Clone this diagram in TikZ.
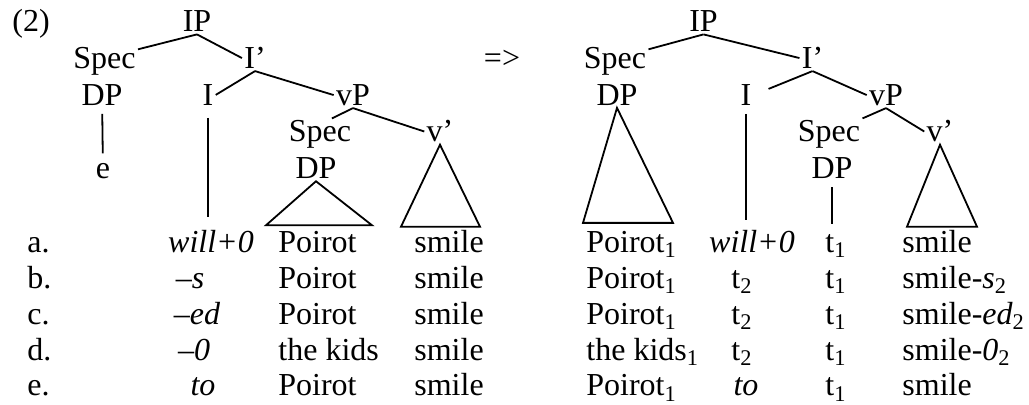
\documentclass[tikz,border=0pt]{standalone}
\usepackage{fontspec}
\setmainfont{Liberation Serif}
\usetikzlibrary{calc}

\begin{document}
\begin{tikzpicture}[
    x=0.5pt, y=-0.5pt,
    every node/.style={font=\fontsize{16}{19}\selectfont, inner sep=1pt},
    cat/.style={anchor=base},
    cell/.style={anchor=base west},
    edge/.style={line width=0.9pt},
    stem/.style={edge, shorten <=3pt, shorten >=4pt},
    roof/.style={edge, line join=miter}
]
    \useasboundingbox (0,0) rectangle (1029,405);

    % tree before movement
    \node [cell] (ex) at (10,32) {(2)};
    \node [cat] (ipa) at (197,32) {IP};
    \node [cat] (speca) at (104.5,68.7) {Spec};
    \node [cat] (ibara) at (255,68.7) {I’};
    \node [cat] (dpa) at (102,105.4) {DP};
    \node [cat] (ia) at (208,105.4) {I};
    \node [cat] (vpa) at (353,105.4) {vP};
    \node [cat] (specb) at (320,142) {Spec};
    \node [cat] (vbara) at (440,142) {v’};
    \node [cat] (ea) at (103,178.8) {e};
    \node [cat] (dpb) at (316,178.8) {DP};

    \node [cat] (arrow) at (502,68.7) {=>};

    % tree after movement
    \node [cat] (ipb) at (703.5,32) {IP};
    \node [cat] (specc) at (615,68.7) {Spec};
    \node [cat] (ibarb) at (812.5,68.7) {I’};
    \node [cat] (dpc) at (617,105.4) {DP};
    \node [cat] (ib) at (746,105.4) {I};
    \node [cat] (vpb) at (886,105.4) {vP};
    \node [cat] (specd) at (829,142) {Spec};
    \node [cat] (vbarb) at (940,142) {v’};
    \node [cat] (dpd) at (832,178.8) {DP};

    % rows a.--e.
    \foreach \n/\lab/\ix/\infl/\subj/\jx/\inflr/\verbr in {
        1/a./211/\textit{will+0}/Poirot/752/\textit{will+0}/smile,
        2/b./190/\textit{--s}/Poirot/742/t\textsubscript{2}/smile-\textit{s}\textsubscript{2},
        3/c./197/\textit{--ed}/Poirot/742/t\textsubscript{2}/smile-\textit{ed}\textsubscript{2},
        4/d./194/\textit{--0}/the kids/742/t\textsubscript{2}/smile-\textit{0}\textsubscript{2},
        5/e./203/\textit{to}/Poirot/746/\textit{to}/smile}
    {
        \node [cell] (lab-\n) at (25,{216.5+35.9*\n}) {\lab};
        \node [cat] (infl-\n) at (\ix,{216.5+35.9*\n}) {\infl};
        \node [cell] (subj-\n) at (276,{216.5+35.9*\n}) {\subj};
        \node [cell] (verb-\n) at (412,{216.5+35.9*\n}) {smile};
        \node [cell] (subjr-\n) at (584,{216.5+35.9*\n}) {\subj\textsubscript{1}};
        \node [cat] (inflr-\n) at (\jx,{216.5+35.9*\n}) {\inflr};
        \node [cell] (trace-\n) at (823,{216.5+35.9*\n}) {t\textsubscript{1}};
        \node [cell] (verbr-\n) at (900,{216.5+35.9*\n}) {\verbr};
    }

    % branches, left
    \draw [edge] (ipa.south) -- (speca.20);
    \draw [edge] (ipa.south) -- (ibara.west);
    \draw [edge] (ibara.south) -- (ia.east);
    \draw [edge] (ibara.south) -- (vpa.west);
    \draw [edge] (vpa.south) -- (specb.54);
    \draw [edge] (vpa.south) -- (vbara.west);
    \draw [stem] (dpa) -- (ea);
    \draw [stem, shorten <=5pt, shorten >=5.5pt] (ia) -- (ia |- infl-1.north);
    \draw [roof] (dpb.south) -- ++(-50,44) -- ++(106,0) -- cycle;
    \draw [roof] (vbara.south) -- ++(-39,82) -- ++(79,0) -- cycle;

    % branches, right
    \draw [edge] (ipb.south) -- (specc.20);
    \draw [edge] (ipb.south) -- (ibarb.west);
    \draw [edge, shorten >=8pt] (ibarb.south) -- (ib.east);
    \draw [edge] (ibarb.south) -- (vpb.west);
    \draw [edge] (vpb.south) -- (specd.north east);
    \draw [edge] (vpb.south) -- (vbarb.west);
    \draw [stem] (ib) -- (ib |- inflr-1.north);
    \draw [stem] (dpd) -- (dpd |- trace-1.north);
    \draw [roof] (dpc.south) -- ++(-34,115) -- ++(90,0) -- cycle;
    \draw [roof] (vbarb.south) -- ++(-33,82) -- ++(70,0) -- cycle;
\end{tikzpicture}
\end{document}
